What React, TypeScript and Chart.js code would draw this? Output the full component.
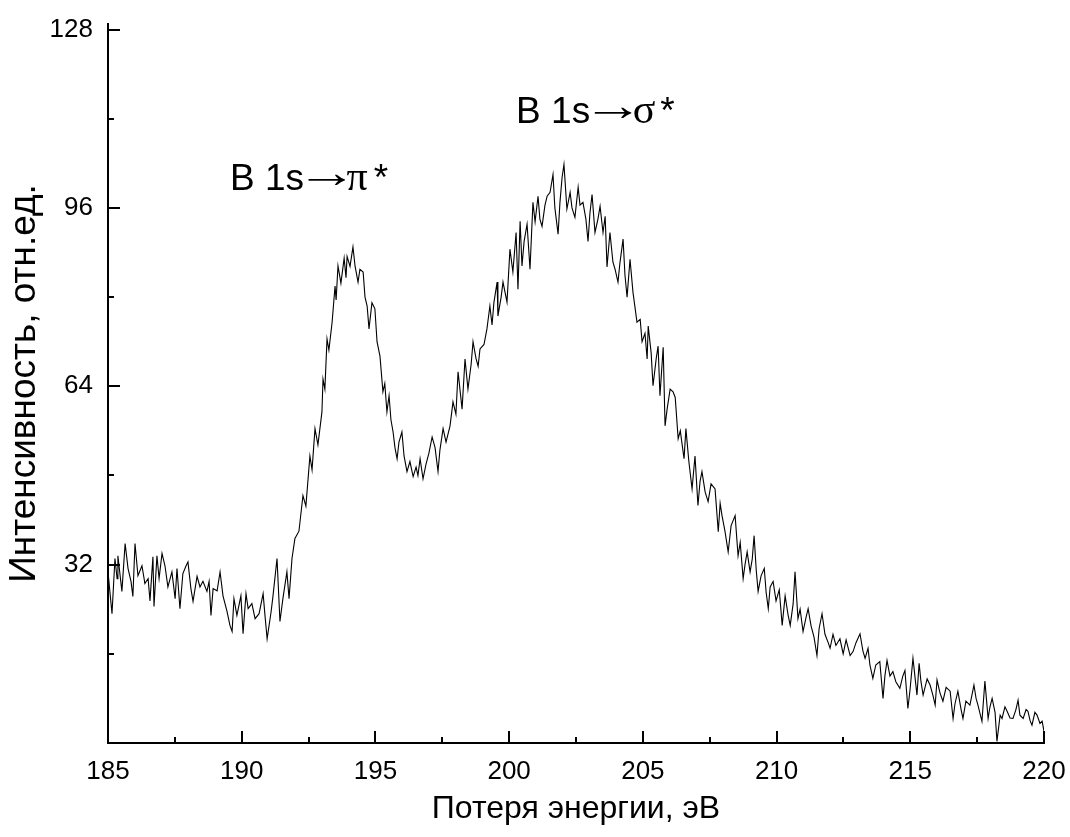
import React, { useEffect, useRef } from "react";
import { Chart, registerables } from "chart.js";

Chart.register(...registerables);

// Energy loss (eV) and intensity (arb. units)
const ENERGY = [
  185.00, 185.15, 185.26, 185.34, 185.37, 185.52, 185.64, 185.75, 185.86, 185.93,
  186.01, 186.12, 186.27, 186.38, 186.50, 186.57, 186.68, 186.72, 186.83, 186.91,
  187.02, 187.13, 187.24, 187.39, 187.51, 187.58, 187.69, 187.80, 187.92, 187.99,
  188.10, 188.18, 188.33, 188.44, 188.55, 188.70, 188.78, 188.85, 188.93, 189.08,
  189.19, 189.30, 189.45, 189.56, 189.64, 189.71, 189.82, 189.97, 190.05, 190.16,
  190.24, 190.38, 190.50, 190.65, 190.80, 190.87, 190.95, 191.10, 191.17, 191.32,
  191.43, 191.54, 191.69, 191.77, 191.88, 191.99, 192.14, 192.29, 192.40, 192.55,
  192.63, 192.74, 192.85, 193.00, 193.04, 193.11, 193.19, 193.26, 193.38, 193.49,
  193.53, 193.60, 193.71, 193.83, 193.90, 193.94, 194.05, 194.16, 194.24, 194.35,
  194.42, 194.54, 194.61, 194.69, 194.76, 194.87, 194.98, 195.06, 195.17, 195.28,
  195.35, 195.43, 195.51, 195.58, 195.66, 195.73, 195.81, 195.88, 195.99, 196.07,
  196.18, 196.29, 196.41, 196.52, 196.59, 196.67, 196.78, 196.89, 197.00, 197.12,
  197.23, 197.34, 197.41, 197.53, 197.64, 197.79, 197.90, 198.01, 198.09, 198.24,
  198.35, 198.46, 198.58, 198.65, 198.76, 198.84, 198.91, 199.06, 199.17, 199.28,
  199.36, 199.43, 199.55, 199.58, 199.70, 199.77, 199.92, 200.03, 200.14, 200.26,
  200.33, 200.41, 200.48, 200.56, 200.67, 200.78, 200.89, 200.97, 201.08, 201.15,
  201.23, 201.34, 201.42, 201.53, 201.64, 201.71, 201.83, 201.90, 201.98, 202.05,
  202.16, 202.28, 202.35, 202.46, 202.58, 202.65, 202.76, 202.87, 202.95, 203.02,
  203.10, 203.21, 203.32, 203.40, 203.51, 203.59, 203.66, 203.77, 203.88, 203.96,
  204.07, 204.14, 204.26, 204.33, 204.41, 204.52, 204.63, 204.78, 204.90, 204.97,
  205.08, 205.16, 205.20, 205.31, 205.38, 205.50, 205.57, 205.64, 205.76, 205.83,
  205.91, 206.02, 206.13, 206.21, 206.32, 206.40, 206.54, 206.61, 206.72, 206.84,
  206.95, 207.06, 207.14, 207.21, 207.33, 207.44, 207.55, 207.70, 207.82, 207.89,
  207.96, 208.07, 208.19, 208.30, 208.45, 208.56, 208.64, 208.75, 208.82, 208.90,
  209.01, 209.09, 209.16, 209.24, 209.31, 209.42, 209.54, 209.61, 209.69, 209.76,
  209.87, 209.98, 210.10, 210.21, 210.32, 210.43, 210.51, 210.62, 210.69, 210.80,
  210.88, 210.99, 211.10, 211.18, 211.29, 211.40, 211.51, 211.59, 211.70, 211.81,
  211.93, 212.00, 212.11, 212.22, 212.37, 212.49, 212.60, 212.75, 212.86, 212.97,
  213.12, 213.23, 213.31, 213.42, 213.49, 213.60, 213.71, 213.86, 213.98, 214.05,
  214.13, 214.24, 214.35, 214.46, 214.61, 214.72, 214.80, 214.91, 214.99, 215.10,
  215.25, 215.33, 215.40, 215.48, 215.63, 215.74, 215.85, 215.93, 216.00, 216.11,
  216.22, 216.34, 216.49, 216.60, 216.67, 216.78, 216.90, 216.97, 217.08, 217.23,
  217.38, 217.46, 217.53, 217.68, 217.79, 217.91, 217.98, 218.06, 218.17, 218.24,
  218.36, 218.43, 218.54, 218.62, 218.73, 218.84, 218.95, 219.03, 219.10, 219.22,
  219.33, 219.40, 219.48, 219.55, 219.66, 219.74, 219.85, 219.93, 220.00,
];

const INTENSITY = [
  30.7, 23.2, 33.1, 29.5, 33.6, 27.2, 35.8, 31.3, 29.0, 26.3,
  35.8, 30.0, 31.8, 28.6, 29.5, 25.5, 33.4, 24.5, 33.6, 29.5,
  34.0, 31.8, 28.0, 30.7, 25.9, 31.3, 24.1, 30.4, 31.8, 32.5,
  27.7, 25.4, 29.9, 28.0, 29.0, 27.2, 29.0, 22.9, 27.7, 27.3,
  30.7, 26.4, 23.6, 21.1, 20.0, 25.9, 22.9, 26.4, 19.6, 26.8,
  24.1, 25.0, 22.3, 23.2, 26.8, 22.9, 18.7, 23.6, 26.4, 33.1,
  21.8, 25.9, 30.7, 25.9, 33.1, 36.7, 38.0, 44.4, 42.5, 51.5,
  49.0, 56.4, 53.5, 59.4, 65.3, 63.5, 72.5, 70.5, 75.5, 82.0,
  79.5, 85.6, 82.5, 87.0, 83.5, 87.3, 85.5, 89.0, 85.5, 82.7,
  85.0, 84.5, 80.0, 78.4, 74.3, 79.0, 77.9, 72.0, 69.4, 63.0,
  64.5, 59.4, 62.3, 58.0, 55.8, 53.0, 51.0, 54.0, 55.8, 51.5,
  48.7, 50.5, 47.8, 49.5, 48.0, 51.0, 47.4, 50.0, 52.0, 54.9,
  53.0, 48.7, 52.5, 56.4, 54.0, 56.9, 61.2, 59.0, 66.6, 59.9,
  68.9, 63.5, 68.0, 72.0, 69.0, 67.6, 70.7, 71.5, 74.3, 78.4,
  75.0, 79.0, 82.7, 76.6, 80.0, 82.7, 79.1, 88.6, 84.5, 91.6,
  81.4, 93.6, 85.6, 90.0, 93.1, 85.0, 97.0, 93.5, 98.1, 94.0,
  92.7, 96.5, 98.1, 98.8, 102.0, 96.0, 91.3, 97.0, 101.5, 103.8,
  95.8, 98.8, 96.0, 94.3, 99.7, 96.5, 97.0, 94.0, 90.0, 95.0,
  98.4, 91.6, 94.0, 96.3, 91.6, 94.5, 85.4, 91.6, 86.3, 85.0,
  82.7, 86.0, 90.4, 84.0, 80.0, 86.8, 80.9, 75.5, 76.0, 72.0,
  73.5, 68.9, 74.8, 70.0, 64.1, 69.0, 71.2, 62.3, 71.0, 56.9,
  60.0, 63.5, 63.0, 62.0, 54.6, 56.0, 51.0, 56.4, 50.5, 45.6,
  51.5, 42.6, 47.0, 48.7, 45.0, 43.3, 46.5, 45.6, 37.9, 43.0,
  40.8, 38.0, 34.3, 39.0, 40.8, 33.6, 36.0, 29.5, 32.0, 34.3,
  30.7, 33.0, 37.2, 31.0, 27.2, 30.0, 31.3, 27.0, 24.1, 28.0,
  29.0, 25.5, 27.5, 21.1, 26.4, 23.0, 21.1, 25.0, 30.7, 22.3,
  24.0, 20.0, 22.5, 24.1, 21.0, 19.0, 15.7, 20.5, 23.2, 19.5,
  18.0, 17.0, 19.5, 17.5, 18.7, 16.0, 18.5, 15.7, 16.4, 18.0,
  19.6, 16.5, 15.2, 17.0, 14.0, 11.6, 14.0, 14.6, 8.0, 12.0,
  14.8, 12.0, 12.8, 11.0, 9.8, 12.0, 13.0, 6.2, 9.5, 15.2,
  8.6, 14.3, 11.0, 8.6, 11.5, 10.4, 8.5, 6.8, 11.3, 9.0,
  7.5, 10.0, 9.3, 4.4, 7.0, 9.3, 6.0, 4.4, 7.5, 6.8,
  10.4, 8.0, 6.8, 3.9, 11.1, 4.4, 6.5, 8.0, 5.5, 0.3,
  5.0, 4.4, 6.5, 5.7, 4.5, 4.4, 6.0, 7.7, 5.0, 4.4,
  6.0, 5.7, 4.0, 3.2, 5.5, 5.0, 3.5, 3.9, 2.1,
];

const X_MAJOR = [185, 190, 195, 200, 205, 210, 215, 220];
const X_MINOR = [187.5, 192.5, 197.5, 202.5, 207.5, 212.5, 217.5];
const Y_MAJOR = [0, 32, 64, 96, 128];
const Y_LABELS = [32, 64, 96, 128];
const Y_MINOR = [16, 48, 80, 112];

const X_TITLE = "Потеря энергии, эВ";
const Y_TITLE = "Интенсивность, отн.ед.";

const SANS = "'Liberation Sans', Arial, Helvetica, sans-serif";
const SERIF = "'Liberation Serif', 'Times New Roman', serif";

// Text pieces of the peak labels: [text, font, size, horizontal stretch, gap before, raise]
const PI_PARTS = [
  ["B 1s", SANS, 37, 1, 0, 0],
  ["→", SERIF, 44, 1.4, -8, 3],
  ["π", SERIF, 42, 1, -11, 0],
  ["*", SANS, 37, 1, 6, 0],
];
const SIGMA_PARTS = [
  ["B 1s", SANS, 37, 1, 0, 0],
  ["→", SERIF, 44, 1.4, -8, 3],
  ["σ", SERIF, 42, 1, -11, 0],
  ["*", SANS, 37, 1, 5, 0],
];
// Peak labels anchored in data space (energy, intensity at baseline)
const PEAK_LABELS = [
  { x: 189.56, y: 99.3, parts: PI_PARTS },
  { x: 200.26, y: 111.2, parts: SIGMA_PARTS },
];

export default function App() {
  const ref = useRef<HTMLCanvasElement>(null);

  useEffect(() => {
    const inwardTicks = {
      id: "inwardTicks",
      afterDraw(chart: any) {
        const { ctx, chartArea, scales } = chart;
        const xs = scales.x;
        const ys = scales.y;
        ctx.save();
        ctx.strokeStyle = "#000";
        ctx.lineWidth = 2;
        ctx.beginPath();
        const b = chartArea.bottom;
        const l = chartArea.left;
        for (const v of X_MAJOR) {
          const px = Math.round(xs.getPixelForValue(v));
          ctx.moveTo(px, b);
          ctx.lineTo(px, b - 12);
        }
        for (const v of X_MINOR) {
          const px = Math.round(xs.getPixelForValue(v));
          ctx.moveTo(px, b);
          ctx.lineTo(px, b - 6);
        }
        for (const v of Y_MAJOR) {
          const py = Math.round(ys.getPixelForValue(v));
          ctx.moveTo(l, py);
          ctx.lineTo(l + 12, py);
        }
        for (const v of Y_MINOR) {
          const py = Math.round(ys.getPixelForValue(v));
          ctx.moveTo(l, py);
          ctx.lineTo(l + 6, py);
        }
        ctx.stroke();

        ctx.fillStyle = "#000";
        ctx.textBaseline = "alphabetic";
        ctx.textAlign = "left";
        for (const lab of PEAK_LABELS) {
          let px = xs.getPixelForValue(lab.x);
          const py = ys.getPixelForValue(lab.y);
          for (const [txt, fam, size, stretch, gap, raise] of lab.parts as any[]) {
            px += gap;
            ctx.font = `${size}px ${fam}`;
            const w = ctx.measureText(txt).width * stretch;
            ctx.save();
            ctx.translate(px, py - raise);
            ctx.scale(stretch, 1);
            ctx.fillText(txt, 0, 0);
            ctx.restore();
            px += w;
          }
        }
        ctx.restore();
      },
    };

    const points = ENERGY.map((e, i) => ({ x: e, y: INTENSITY[i] }));

    const chart = new Chart(ref.current as HTMLCanvasElement, {
      type: "line",
      data: {
        datasets: [
          {
            data: points,
            borderColor: "#000",
            borderWidth: 1.1,
            pointRadius: 0,
            tension: 0,
            fill: false,
          },
        ],
      },
      options: {
        animation: false,
        responsive: false,
        devicePixelRatio: 1,
        layout: { padding: { left: 0, top: 24, right: 26, bottom: 0 } },
        plugins: { legend: { display: false }, tooltip: { enabled: false } },
        scales: {
          x: {
            type: "linear",
            min: 185,
            max: 220,
            afterBuildTicks: (s: any) => {
              s.ticks = X_MAJOR.map((v) => ({ value: v }));
            },
            afterFit: (s: any) => {
              s.height = 94;
              s.paddingLeft = 0;
              s.paddingRight = 0;
              s.paddingTop = 0;
              s.paddingBottom = 0;
            },
            grid: { display: true, drawOnChartArea: false, drawTicks: false },
            border: { display: true, color: "#000", width: 2 },
            ticks: {
              color: "#000",
              font: { family: SANS, size: 26 },
              padding: 13,
              maxRotation: 0,
              autoSkip: false,
              callback: (v: any) => String(v),
            },
            title: {
              display: true,
              text: X_TITLE,
              color: "#000",
              font: { family: SANS, size: 32 },
              padding: { top: 0, bottom: 9 },
            },
          },
          y: {
            type: "linear",
            min: 0,
            max: 129,
            afterBuildTicks: (s: any) => {
              s.ticks = Y_LABELS.map((v) => ({ value: v }));
            },
            afterFit: (s: any) => {
              s.width = 108;
              s.paddingLeft = 0;
              s.paddingRight = 0;
              s.paddingTop = 0;
              s.paddingBottom = 0;
            },
            grid: { display: true, drawOnChartArea: false, drawTicks: false },
            border: { display: true, color: "#000", width: 2 },
            ticks: {
              color: "#000",
              font: { family: SANS, size: 26 },
              padding: 15,
              callback: (v: any) => String(v),
            },
            title: {
              display: true,
              text: Y_TITLE,
              color: "#000",
              font: { family: SANS, size: 37 },
              padding: { top: 3, bottom: 0 },
            },
          },
        },
      },
      plugins: [inwardTicks],
    });

    return () => chart.destroy();
  }, []);

  return (
    <div style={{ position: "absolute", left: 0, top: 0, width: 1070, height: 837, background: "#fff" }}>
      <canvas ref={ref} width={1070} height={837} style={{ display: "block" }} />
    </div>
  );
}
